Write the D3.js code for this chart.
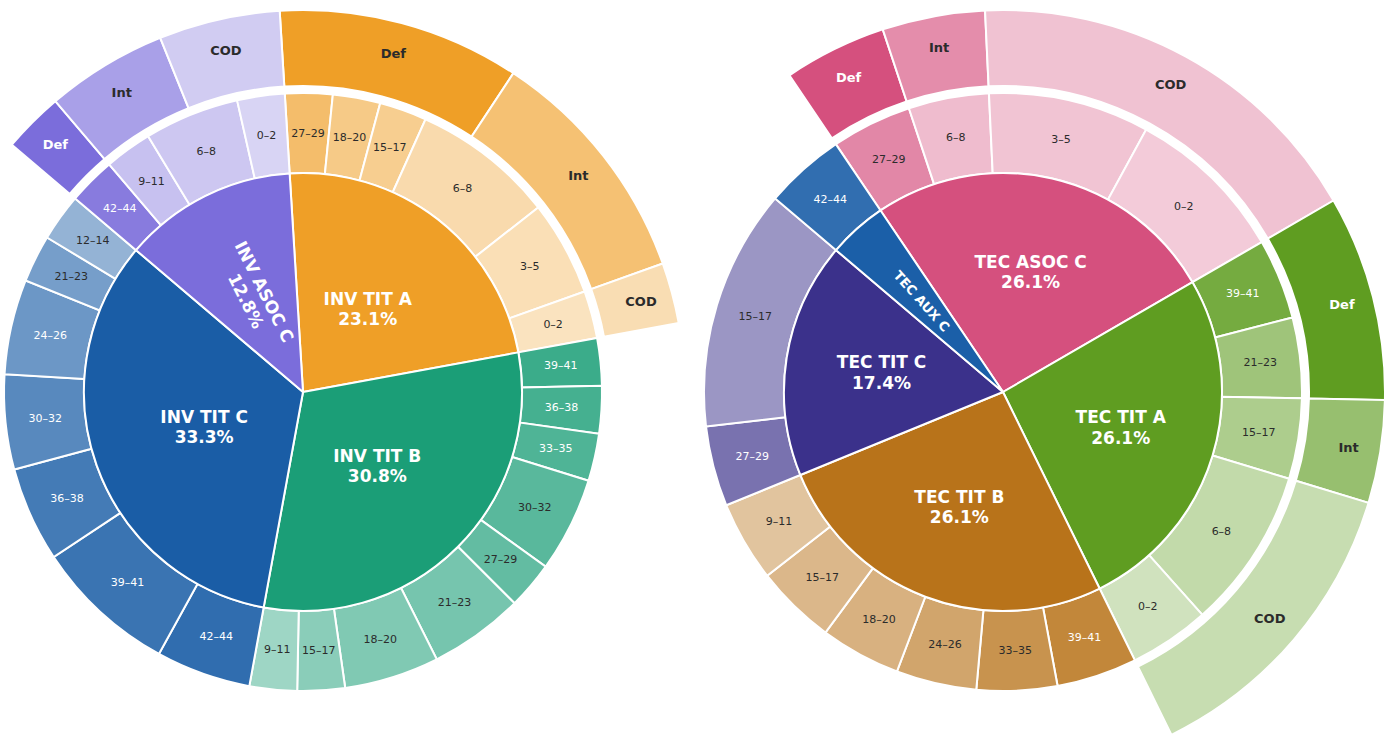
<!DOCTYPE html>
<html>
<head>
<meta charset="utf-8">
<script src="https://cdn.jsdelivr.net/npm/d3@7"></script>
<style>
  body { margin: 0; background: #fff; }
  svg { display: block; font-family: "DejaVu Sans", sans-serif; }
</style>
</head>
<body>
<div id="vis"></div>
<script>
// --- data: staff per category, age bins and contract type ---
var invGroups = ["INV TIT A", "INV TIT B", "INV TIT C", "INV ASOC C"];
var invBins = [
  ["27–29", "18–20", "15–17", "6–8", "3–5", "0–2"],
  ["39–41", "36–38", "33–35", "30–32", "27–29", "21–23", "18–20", "15–17", "9–11"],
  ["42–44", "39–41", "36–38", "30–32", "24–26", "21–23", "12–14"],
  ["42–44", "9–11", "6–8", "0–2"]
];
var invCounts = [
  [1, 1, 1, 3, 2, 1],
  [1, 1, 1, 2, 1, 2, 2, 1, 1],
  [2, 3, 2, 2, 2, 1, 1],
  [1, 1, 2, 1]
];
var invContracts = [[4, 4, 1], null, null, [1, 2, 2]];

var tecGroups = ["TEC ASOC C", "TEC TIT A", "TEC TIT B", "TEC TIT C", "TEC AUX C"];
var tecBins = [
  ["27–29", "6–8", "3–5", "0–2"],
  ["39–41", "21–23", "15–17", "6–8", "0–2"],
  ["39–41", "33–35", "24–26", "18–20", "15–17", "9–11"],
  ["27–29", "15–17"],
  ["42–44"]
];
var tecCounts = [
  [1, 1, 2, 2],
  [1, 1, 1, 2, 1],
  [1, 1, 1, 1, 1, 1],
  [1, 3],
  [1]
];
var tecContracts = [[1, 1, 4], [2, 1, 3], null, null, null];

var contractTypes = ["Def", "Int", "COD"];

// base colours per category
var invColors = ["#ef9f27", "#1b9e77", "#1a5da6", "#7b6ddb"];
var tecColors = ["#d5507e", "#5f9d21", "#b8731a", "#3b318b", "#1b5fa8"];

// --- layout ---
var width = 1393, height = 737;
var rPie = 219, rMidOut = 299, rOutIn = 306, rOutOut = 382;

var charts = [
  { cx: 303, cy: 392, start: -3.5, groups: invGroups, bins: invBins, counts: invCounts,
    contracts: invContracts, colors: invColors, labelR: 105, rotR: 107 },
  { cx: 1003, cy: 392, start: -34, groups: tecGroups, bins: tecBins, counts: tecCounts,
    contracts: tecContracts, colors: tecColors, labelR: 123, rotR: 122 }
];

var svg = d3.select("#vis").append("svg")
    .attr("width", width)
    .attr("height", height);

var pct = d3.format(".1%");
var rad = Math.PI / 180;

function lighten(c, t) { return d3.interpolateRgb(c, "#ffffff")(t); }

// older age bins keep more of the base colour
function ageShade(bin) {
  var a = parseInt(bin, 10) + 1;
  return Math.max(0.05, Math.min(0.75, 0.72 - 0.0145 * a));
}

function textColor(fill) {
  var c = d3.rgb(fill);
  return (0.299 * c.r + 0.587 * c.g + 0.114 * c.b) < 150 ? "#ffffff" : "#2b2b2b";
}

charts.forEach(function(ch) {
  var g = svg.append("g").attr("transform", "translate(" + ch.cx + "," + ch.cy + ")");
  var totals = ch.counts.map(function(c) { return d3.sum(c); });
  var total = d3.sum(totals);

  var pie = d3.pie().sort(null)
      .startAngle(ch.start * rad)
      .endAngle(ch.start * rad + 2 * Math.PI);
  var slices = pie(totals);

  var arcPie = d3.arc().innerRadius(0).outerRadius(rPie);
  var arcMid = d3.arc().innerRadius(rPie).outerRadius(rMidOut);
  var arcOut = d3.arc().innerRadius(rOutIn).outerRadius(rOutOut);

  // middle ring: age bins
  slices.forEach(function(s, i) {
    var sub = d3.pie().sort(null).startAngle(s.startAngle).endAngle(s.endAngle)(ch.counts[i]);
    sub.forEach(function(d, j) {
      var fill = lighten(ch.colors[i], ageShade(ch.bins[i][j]));
      g.append("path")
          .attr("d", arcMid(d))
          .attr("fill", fill)
          .attr("stroke", "#fff")
          .attr("stroke-width", 2);
      var m = (d.startAngle + d.endAngle) / 2, r = (rPie + rMidOut) / 2;
      g.append("text")
          .attr("x", Math.sin(m) * r)
          .attr("y", -Math.cos(m) * r)
          .attr("text-anchor", "middle")
          .attr("dominant-baseline", "central")
          .attr("font-size", 11)
          .attr("fill", textColor(fill))
          .text(ch.bins[i][j]);
    });

    // outer ring: contract type, only where given
    if (ch.contracts[i]) {
      var shades = [0, 0.35, 0.65];
      var sub2 = d3.pie().sort(null).startAngle(s.startAngle).endAngle(s.endAngle)(ch.contracts[i]);
      sub2.forEach(function(d, j) {
        var fill = lighten(ch.colors[i], shades[j]);
        g.append("path")
            .attr("d", arcOut(d))
            .attr("fill", fill)
            .attr("stroke", "#fff")
            .attr("stroke-width", 2);
        var m = (d.startAngle + d.endAngle) / 2, r = 350;
        g.append("text")
            .attr("x", Math.sin(m) * r)
            .attr("y", -Math.cos(m) * r)
            .attr("text-anchor", "middle")
            .attr("dominant-baseline", "central")
            .attr("font-size", 13)
            .attr("font-weight", "bold")
            .attr("fill", textColor(fill))
            .text(contractTypes[j]);
      });
    }
  });

  // inner pie
  g.selectAll("path.slice")
    .data(slices)
    .enter().append("path")
      .attr("class", "slice")
      .attr("d", arcPie)
      .attr("fill", function(d, i) { return ch.colors[i]; })
      .attr("stroke", "#fff")
      .attr("stroke-width", 2)
      .attr("stroke-linejoin", "round");

  slices.forEach(function(s, i) {
    var frac = totals[i] / total;
    var m = (s.startAngle + s.endAngle) / 2;
    var rotated = frac < 0.15;
    var r = rotated ? ch.rotR : ch.labelR;
    var lg = g.append("g")
        .attr("transform", "translate(" + (Math.sin(m) * r) + "," + (-Math.cos(m) * r) + ")" +
              (rotated ? " rotate(" + (m / rad + 90) + ")" : ""));
    var t = lg.append("text")
        .attr("text-anchor", "middle")
        .attr("font-weight", "bold")
        .attr("font-size", frac < 0.05 ? 13 : 17)
        .attr("fill", "#fff");
    if (frac < 0.05) {
      t.append("tspan").attr("x", 0).attr("dy", "0.35em").text(ch.groups[i]);
    } else {
      t.append("tspan").attr("x", 0).attr("dy", "-0.25em").text(ch.groups[i]);
      t.append("tspan").attr("x", 0).attr("dy", "1.2em").text(pct(frac));
    }
  });
});
</script>
</body>
</html>
